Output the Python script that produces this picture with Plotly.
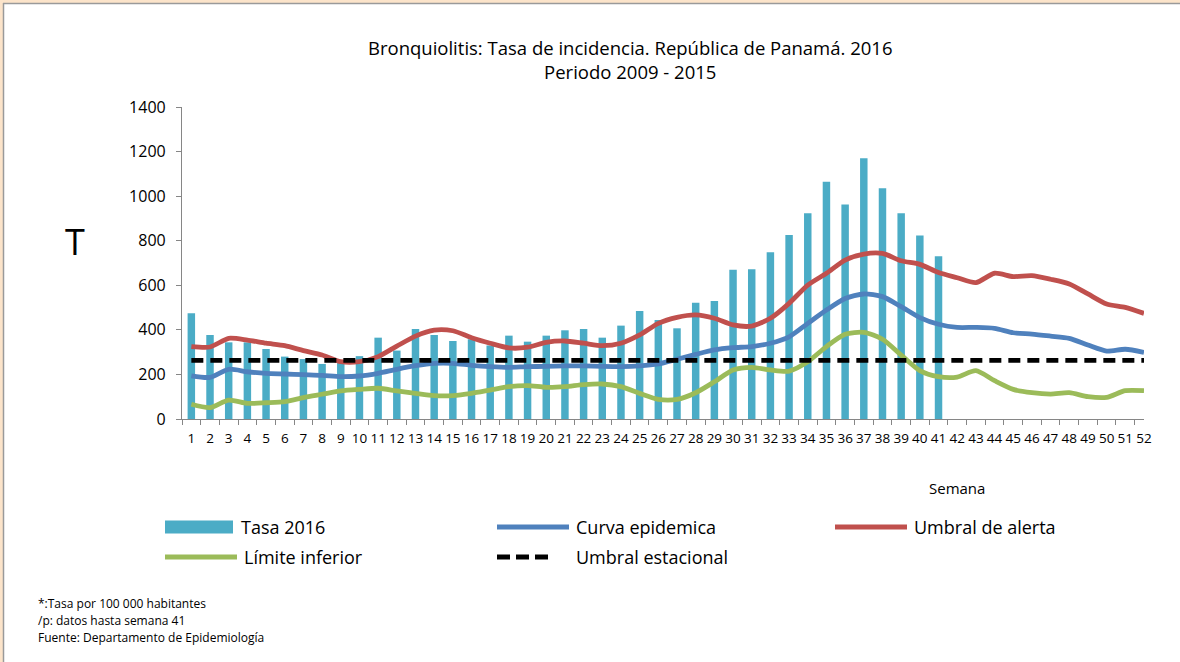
import plotly.graph_objects as go

semanas = [str(i) for i in range(1, 53)]
y_ticks = [0, 200, 400, 600, 800, 1000, 1200, 1400]

tasa_2016 = [474, 377, 344, 344, 314, 280, 269, 247, 251, 282, 365, 307, 404, 377, 350,
             358, 330, 374, 347, 374, 398, 404, 365, 419, 485, 444, 407, 522, 529, 670,
             672, 748, 826, 923, 1065, 963, 1170, 1035, 923, 823, 730]

curva_epidemica = [194, 187, 223, 212, 205, 202, 199, 196, 190, 193, 205, 223, 239, 250, 250,
                   241, 235, 232, 235, 236, 238, 238, 236, 235, 238, 247, 268, 290, 310, 320,
                   325, 340, 369, 429, 489, 541, 561, 549, 504, 455, 425, 411, 411, 407, 387,
                   381, 372, 362, 332, 305, 313, 299]

umbral_alerta = [325, 323, 362, 354, 340, 329, 307, 287, 257, 257, 280, 327, 372, 399, 396,
                 365, 340, 319, 322, 344, 350, 340, 329, 340, 377, 429, 456, 467, 452, 422,
                 417, 452, 519, 601, 654, 713, 740, 743, 710, 694, 657, 634, 612, 654, 639,
                 643, 627, 606, 561, 516, 501, 474]

limite_inferior = [66, 51, 85, 70, 73, 78, 96, 111, 126, 133, 138, 126, 115, 105, 105,
                   115, 130, 145, 150, 142, 145, 154, 157, 145, 115, 88, 88, 118, 167, 220,
                   232, 220, 215, 257, 325, 380, 389, 358, 287, 217, 190, 188, 217, 172, 133,
                   118, 112, 118, 100, 97, 127, 127]

umbral_estacional = [263, 263, 263, 263, 263, 263, 263, 263, 263, 263, 263, 263, 263, 263, 263,
                     263, 263, 263, 263, 263, 263, 263, 263, 263, 263, 263, 263, 263, 263, 263,
                     263, 263, 263, 263, 263, 263, 263, 263, 263, 263, 263, 263, 263, 263, 263,
                     263, 263, 263, 263, 263, 263, 263]

C_BAR = "#4BACC6"
C_BLUE = "#4F81BD"
C_RED = "#C0504D"
C_GREEN = "#9BBB59"
FONT = "Open Sans"

W, H = 1180, 662
L, R, T, B = 182, 36, 107, 243
PW, PH = W - L - R, H - T - B


def px(x):
    return (x - L) / PW


def py(y):
    return (H - B - y) / PH


fig = go.Figure()
fig.add_trace(go.Bar(x=semanas[:len(tasa_2016)], y=tasa_2016, name="Tasa 2016",
                     marker=dict(color=C_BAR, line=dict(width=0)), width=0.4))
fig.add_trace(go.Scatter(x=semanas, y=curva_epidemica, mode="lines", name="Curva epidemica",
                         line=dict(color=C_BLUE, width=4.8, shape="spline", smoothing=0.7)))
fig.add_trace(go.Scatter(x=semanas, y=umbral_alerta, mode="lines", name="Umbral de alerta",
                         line=dict(color=C_RED, width=4.8, shape="spline", smoothing=0.7)))
fig.add_trace(go.Scatter(x=semanas, y=limite_inferior, mode="lines", name="Límite inferior",
                         line=dict(color=C_GREEN, width=4.8, shape="spline", smoothing=0.7)))
fig.add_trace(go.Scatter(x=semanas, y=umbral_estacional, mode="lines", name="Umbral estacional",
                         line=dict(color="black", width=4.8, dash="12px,7px")))

shapes = []
annotations = []

# frame on the top and left edges
shapes.append(dict(type="rect", xref="paper", yref="paper", x0=px(0), x1=px(W), y0=py(3), y1=py(0),
                   fillcolor="#FCE4CA", line=dict(width=0), layer="above"))
shapes.append(dict(type="rect", xref="paper", yref="paper", x0=px(0), x1=px(3), y0=py(H), y1=py(0),
                   fillcolor="#FCE4CA", line=dict(width=0), layer="above"))
shapes.append(dict(type="line", xref="paper", yref="paper", x0=px(3), x1=px(W), y0=py(3.5), y1=py(3.5),
                   line=dict(color="#9A9A9A", width=1.5), layer="above"))
shapes.append(dict(type="line", xref="paper", yref="paper", x0=px(3.5), x1=px(3.5), y0=py(H), y1=py(3),
                   line=dict(color="#9A9A9A", width=1.5), layer="above"))

# manual legend
legend_items = [
    ("Tasa 2016", "bar", C_BAR, 165, 527),
    ("Curva epidemica", "line", C_BLUE, 497, 527),
    ("Umbral de alerta", "line", C_RED, 835, 527),
    ("Límite inferior", "line", C_GREEN, 165, 557),
    ("Umbral estacional", "dash", "black", 497, 557),
]
for label, kind, color, x0, yc in legend_items:
    if kind == "bar":
        shapes.append(dict(type="rect", xref="paper", yref="paper", x0=px(x0), x1=px(x0 + 68),
                           y0=py(yc + 6.5), y1=py(yc - 6.5), fillcolor=color, line=dict(width=0)))
        tx = x0 + 74
    elif kind == "line":
        shapes.append(dict(type="line", xref="paper", yref="paper", x0=px(x0), x1=px(x0 + 72),
                           y0=py(yc), y1=py(yc), line=dict(color=color, width=5)))
        tx = x0 + 77
    else:
        for k in range(3):
            shapes.append(dict(type="line", xref="paper", yref="paper", x0=px(x0 + k * 19),
                               x1=px(x0 + k * 19 + 13), y0=py(yc), y1=py(yc),
                               line=dict(color=color, width=5)))
        tx = x0 + 77
    annotations.append(dict(text=label, xref="paper", yref="paper", x=px(tx), y=py(yc),
                            xanchor="left", yanchor="middle", showarrow=False,
                            font=dict(family=FONT, size=18, color="black")))

annotations += [
    dict(text="T", xref="paper", yref="paper", x=px(75), y=py(241), xanchor="center",
         yanchor="middle", showarrow=False, font=dict(family=FONT, size=36, color="black")),
    dict(text="Semana", xref="paper", yref="paper", x=px(957), y=py(488), xanchor="center",
         yanchor="middle", showarrow=False, font=dict(family=FONT, size=15, color="black")),
    dict(text="*:Tasa por 100 000 habitantes", xref="paper", yref="paper", x=px(36), y=py(603),
         xanchor="left", yanchor="middle", showarrow=False, font=dict(family=FONT, size=12, color="black")),
    dict(text="/p: datos hasta semana 41", xref="paper", yref="paper", x=px(36), y=py(620),
         xanchor="left", yanchor="middle", showarrow=False, font=dict(family=FONT, size=12, color="black")),
    dict(text="Fuente: Departamento de Epidemiología", xref="paper", yref="paper", x=px(36), y=py(637),
         xanchor="left", yanchor="middle", showarrow=False, font=dict(family=FONT, size=12, color="black")),
    dict(text="Bronquiolitis: Tasa de incidencia. República de Panamá. 2016<br>Periodo 2009 - 2015",
         xref="paper", yref="paper", x=px(630), y=py(59), xanchor="center", yanchor="middle",
         showarrow=False, font=dict(family=FONT, size=18.5, color="black")),
]

fig.update_layout(
    width=W, height=H,
    margin=dict(l=L, r=R, t=T, b=B, pad=0),
    paper_bgcolor="white", plot_bgcolor="white",
    showlegend=False,
    shapes=shapes, annotations=annotations,
    font=dict(family=FONT, color="black"),
)
fig.update_xaxes(type="category", showline=True, linecolor="#868686", linewidth=1.2,
                 ticks="outside", tickson="boundaries", ticklen=5, tickcolor="#868686",
                 tickangle=0, ticklabelstandoff=7, tickfont=dict(family=FONT, size=13.5, color="black"),
                 showgrid=False, zeroline=False, fixedrange=True)
fig.update_yaxes(range=[0, 1400], tickvals=y_ticks, showline=True, linecolor="#868686", linewidth=1.2,
                 ticks="outside", ticklen=5, tickcolor="#868686", ticklabelstandoff=7,
                 tickfont=dict(family=FONT, size=16, color="black"),
                 showgrid=False, zeroline=False, fixedrange=True)

fig.write_html("out.html", config={"displayModeBar": False},
               post_script="document.body.style.margin='0';document.body.style.overflow='hidden';")
